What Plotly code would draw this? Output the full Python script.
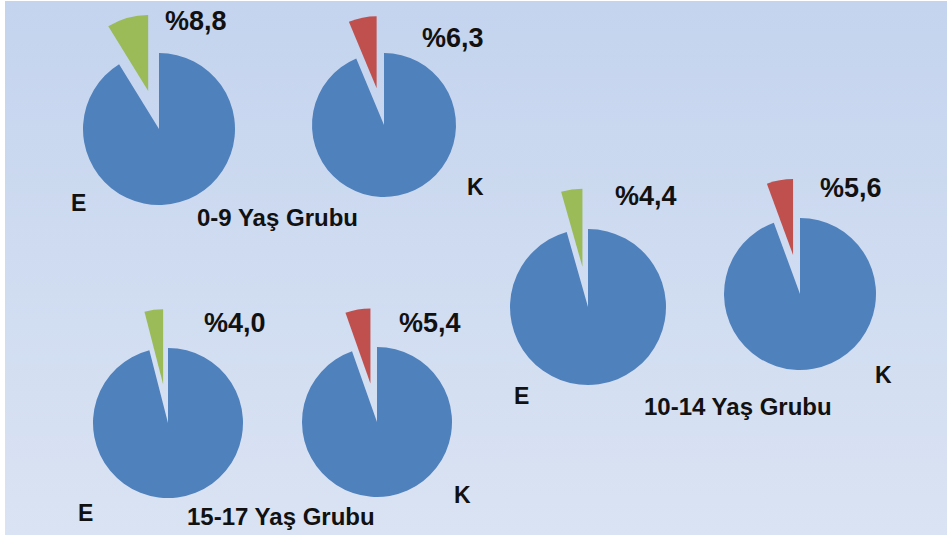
import plotly.graph_objects as go

# ---- data ----
groups = ["0-9 Yaş Grubu", "10-14 Yaş Grubu", "15-17 Yaş Grubu"]
sexes = ["E", "K"]
e_values = [8.8, 4.4, 4.0]
k_values = [6.3, 5.6, 5.4]
pct_labels_e = ["%8,8", "%4,4", "%4,0"]
pct_labels_k = ["%6,3", "%5,6", "%5,4"]

# ---- layout (pixel geometry) ----
W, H = 947, 538
PULL = 0.52
# pie centres and radii per group: (E pie, K pie)
pie_geom = [
    [(159, 129, 76), (384, 125, 72)],
    [(588, 307, 78), (800, 294, 76)],
    [(168, 423, 75), (377, 422, 75)],
]
pct_pos = [
    [(196, 21), (453, 38)],
    [(646, 196), (851, 188)],
    [(235, 323), (430, 323)],
]
sex_pos = [
    [(78, 203), (475, 187)],
    [(521, 396), (883, 375)],
    [(85, 513), (462, 495)],
]
title_pos = [(277, 217), (738, 406), (281, 516)]

BLUE = "#4f81bd"
GREEN = "#9bbb59"
RED = "#c0504d"
FONT = "Liberation Sans, Arial, sans-serif"

fig = go.Figure()

# gradient background
fig.add_trace(go.Scatter(
    x=[5, W, W, 5, 5], y=[1, 1, 535, 535, 1],
    mode="lines", line=dict(width=0), fill="toself",
    fillgradient=dict(type="vertical", start=1, stop=535,
                      colorscale=[[0, "#c4d4ee"], [1, "#dae3f3"]]),
    hoverinfo="skip", showlegend=False,
))

annotations = []
for gi, grp in enumerate(groups):
    vals = [e_values[gi], k_values[gi]]
    cols = [GREEN, RED]
    pcts = [pct_labels_e[gi], pct_labels_k[gi]]
    for si, sx in enumerate(sexes):
        cx, cy, r = pie_geom[gi][si]
        R = r * (1 + PULL)
        fig.add_trace(go.Pie(
            values=[vals[si], 100 - vals[si]],
            labels=[sx, "diğer"],
            sort=False, direction="clockwise", rotation=-360 * vals[si] / 100,
            pull=[PULL, 0],
            marker=dict(colors=[cols[si], BLUE], line=dict(width=0)),
            textinfo="none", hoverinfo="label+value", showlegend=False,
            domain=dict(x=[(cx - R) / W, (cx + R) / W],
                        y=[1 - (cy + R) / H, 1 - (cy - R) / H]),
        ))
        px_, py_ = pct_pos[gi][si]
        annotations.append(dict(x=px_, y=py_, xref="x", yref="y", text=f"<b>{pcts[si]}</b>",
                                showarrow=False, font=dict(family=FONT, size=27, color="#111111")))
        sx_x, sx_y = sex_pos[gi][si]
        annotations.append(dict(x=sx_x, y=sx_y, xref="x", yref="y", text=f"<b>{sx}</b>",
                                showarrow=False, font=dict(family=FONT, size=23, color="#111111")))
    tx, ty = title_pos[gi]
    annotations.append(dict(x=tx, y=ty, xref="x", yref="y", text=f"<b>{grp}</b>",
                            showarrow=False, font=dict(family=FONT, size=24, color="#111111")))

fig.update_layout(
    width=W, height=H,
    margin=dict(l=0, r=0, t=0, b=0),
    paper_bgcolor="white", plot_bgcolor="rgba(0,0,0,0)",
    xaxis=dict(range=[0, W], visible=False, fixedrange=True),
    yaxis=dict(range=[H, 0], visible=False, fixedrange=True),
    annotations=annotations,
    showlegend=False,
)

fig.write_html("out.html", config={"displayModeBar": False},
               post_script="document.body.style.margin='0';document.body.style.overflow='hidden';")
